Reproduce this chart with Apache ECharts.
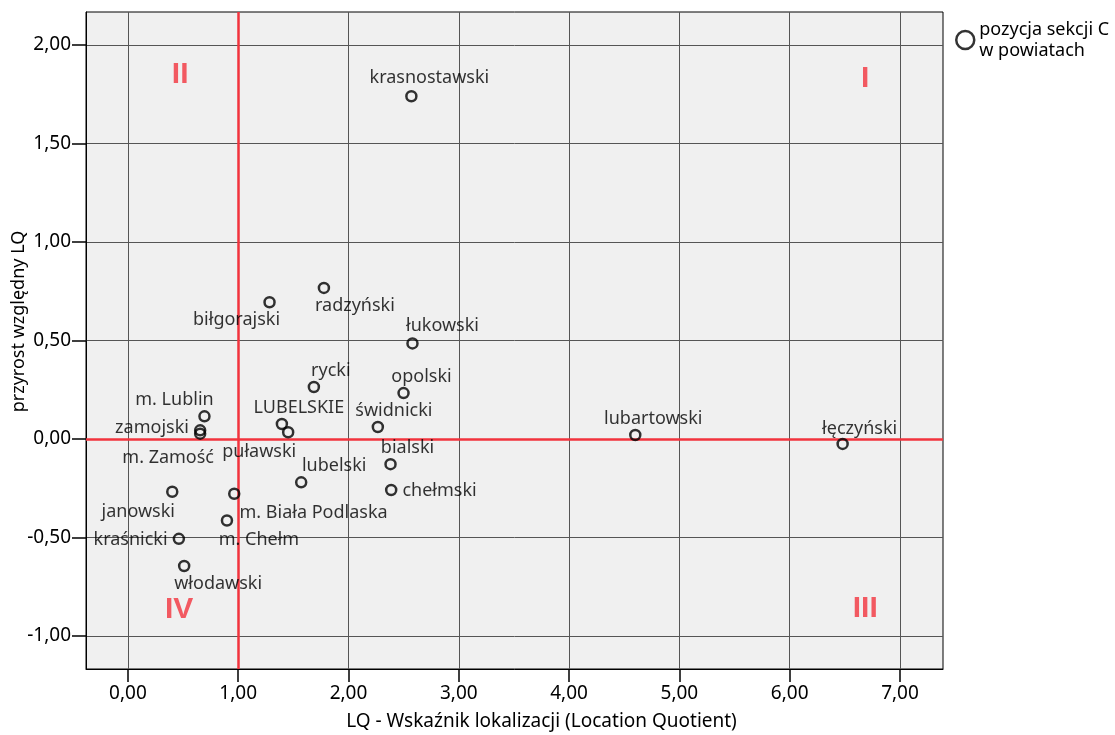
<!DOCTYPE html>
<html><head><meta charset="utf-8">
<script src="https://cdn.jsdelivr.net/npm/echarts@6/dist/echarts.min.js"></script>
<style>html,body{margin:0;padding:0;background:#fff}#c{width:1115px;height:735px}</style>
</head><body><div id="c"></div>
<script>
// ---- data ----
const names = ['krasnostawski','radzyński','biłgorajski','łukowski','rycki','opolski','m. Lublin','zamojski','m. Zamość','LUBELSKIE','puławski','świdnicki','lubartowski','łęczyński','bialski','lubelski','chełmski','janowski','m. Biała Podlaska','m. Chełm','kraśnicki','włodawski'];
const lqValues = [2.57,1.777,1.284,2.58,1.686,2.499,0.694,0.655,0.655,1.396,1.453,2.266,4.60,6.48,2.381,1.571,2.387,0.402,0.964,0.898,0.462,0.510];
const growthValues = [1.74,0.767,0.694,0.485,0.264,0.233,0.115,0.044,0.027,0.076,0.034,0.061,0.02,-0.025,-0.128,-0.220,-0.259,-0.268,-0.278,-0.414,-0.507,-0.645];
const xTicks = [0,1,2,3,4,5,6,7];
const yTicks = [-1,-0.5,0,0.5,1,1.5,2];
const quadrantNames = ['I','II','III','IV'];
const quadrantX = [6.685,0.474,6.685,0.465];
const quadrantY = [1.83,1.85,-0.86,-0.866];
const refX = 1, refY = 0;
const legendText = 'pozycja sekcji C\nw powiatach';

// ---- label placement (style only) ----
// [align, dx, dy] relative to point
const labelPlace = [
 ['center',18,-18],['center',31,18],['center',-33,18],['center',30,-18],['center',17,-16],['center',18,-16],
 ['center',-30,-16],['right',-5,-2],['center',-32,24],['center',17,-16],['center',-29,20],['center',16,-16],
 ['center',18,-16],['center',17,-15],['center',17,-16],['center',33,-16],['left',5,1],['center',-34,20],
 ['left',-1,19],['center',32,19],['right',-5,1],['center',34,18]
];

const FONT = '"Noto Sans", sans-serif';
const fmt = v => v.toFixed(2).replace('.', ',');
const RED = '#f2333d';

const pts = names.map((n,i)=>{
  const p = labelPlace[i];
  let pos = 'inside';
  if (p[0]==='left') pos='right';
  if (p[0]==='right') pos='left';
  return {name:n, value:[lqValues[i], growthValues[i]],
    label:{position:pos, offset:[p[1], p[2]], distance: 0}};
});

const chart = echarts.init(document.getElementById('c'), null, {renderer:'canvas'});
const axisCommon = {
  axisLine:{show:true,onZero:false,lineStyle:{color:'#000',width:1}},
  axisTick:{show:true,length:13,lineStyle:{color:'#000',width:1.5}},
  axisLabel:{color:'#000',fontFamily:FONT,fontSize:19,formatter:fmt},
  splitLine:{show:true,lineStyle:{color:'#555',width:1}},
  nameTextStyle:{color:'#000',fontFamily:FONT}
};
chart.setOption({
  animation:false,
  backgroundColor:'#fff',
  grid:{left:86,right:172,top:12,bottom:66,containLabel:false,outerBoundsMode:'none',show:true,backgroundColor:'#f0f0f0',borderColor:'#000',borderWidth:1},
  xAxis:Object.assign({}, axisCommon, {
    type:'value', min:-0.38, max:7.39,
    name:'LQ - Wskaźnik lokalizacji (Location Quotient)', nameLocation:'middle', nameGap:43, nameMoveOverlap:false,
    nameTextStyle:{color:'#000',fontFamily:FONT,fontSize:19,padding:[0,0,0,54]},
    axisTick:Object.assign({}, axisCommon.axisTick, {customValues:xTicks}),
    axisLabel:Object.assign({}, axisCommon.axisLabel, {customValues:xTicks, margin:15}),
    splitLine:Object.assign({}, axisCommon.splitLine, {customValues:xTicks})
  }),
  yAxis:Object.assign({}, axisCommon, {
    type:'value', min:-1.168, max:2.168,
    name:'przyrost względny LQ', nameLocation:'middle', nameGap:58, nameMoveOverlap:false,
    nameTextStyle:{color:'#000',fontFamily:FONT,fontSize:18,padding:[0,0,0,38]},
    axisTick:Object.assign({}, axisCommon.axisTick, {customValues:yTicks, length:14}),
    axisLabel:Object.assign({}, axisCommon.axisLabel, {customValues:yTicks, margin:15}),
    splitLine:Object.assign({}, axisCommon.splitLine, {customValues:yTicks})
  }),
  legend:{show:true, left:955, top:19, padding:0, orient:'vertical', itemWidth:18, itemHeight:18, itemGap:0,
    textStyle:{fontFamily:FONT,fontSize:18,color:'#000',lineHeight:21},
    data:[{name:legendText, icon:'circle', itemStyle:{color:'transparent',borderColor:'#000',borderWidth:2.5}}]},
  series:[
    {type:'scatter', name:legendText, data:pts, symbol:'circle', symbolSize:10,
     itemStyle:{color:'rgba(0,0,0,0)',borderColor:'#000',borderWidth:2.5},
     label:{show:true, formatter:'{b}', color:'#000', fontFamily:FONT, fontSize:18},
     emphasis:{disabled:true},
     markLine:{silent:true, symbol:'none', label:{show:false},
       lineStyle:{color:RED,width:2.5,type:'solid'},
       data:[{xAxis:refX},{yAxis:refY}]},
     z:5},
    {type:'scatter', name:'quadrants', data:quadrantNames.map((q,i)=>({name:q,value:[quadrantX[i],quadrantY[i]]})),
     symbolSize:0, silent:true,
     label:{show:true, position:'inside', formatter:'{b}', color:RED, fontFamily:'"Liberation Sans", Arial, sans-serif', fontSize:30, fontWeight:'bold'},
     z:6}
  ]
});
</script></body></html>
